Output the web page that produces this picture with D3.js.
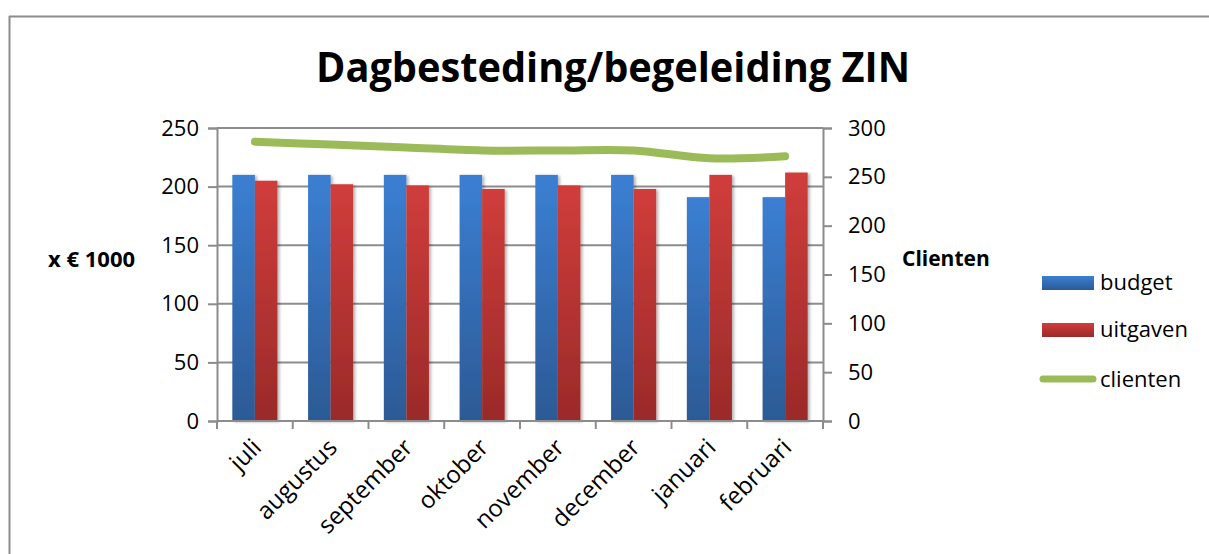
<!DOCTYPE html>
<html>
<head>
<meta charset="utf-8">
<script src="https://cdn.jsdelivr.net/npm/d3@7"></script>
<style>
  body { margin: 0; background: #fff; }
  svg { display: block; font-family: "Open Sans", sans-serif; }
</style>
</head>
<body>
<svg width="1209" height="554"></svg>
<script>
// Chart data
const months = ["juli", "augustus", "september", "oktober", "november", "december", "januari", "februari"];
const budget = [210, 210, 210, 210, 210, 210, 191, 191];
const uitgaven = [205, 202, 201, 198, 201, 198, 210, 212];
const clienten = [286, 283, 280, 277, 277, 277, 269, 271];
const leftTicks = [0, 50, 100, 150, 200, 250];
const rightTicks = [0, 50, 100, 150, 200, 250, 300];
const seriesNames = ["budget", "uitgaven"];

const svg = d3.select("svg");

// gradients + shadow
const defs = svg.append("defs");
function grad(id, top, bottom) {
    const g = defs.append("linearGradient").attr("id", id)
        .attr("x1", 0).attr("y1", 0).attr("x2", 0).attr("y2", 1);
    g.append("stop").attr("offset", "0%").attr("stop-color", top);
    g.append("stop").attr("offset", "100%").attr("stop-color", bottom);
}
grad("g-budget", "#3b7fd3", "#2c5a95");
grad("g-uitgaven", "#d03d3b", "#9a2a29");
defs.append("filter").attr("id", "shadow")
    .attr("x", "-20%").attr("y", "-5%").attr("width", "150%").attr("height", "115%")
    .append("feDropShadow")
    .attr("dx", 2).attr("dy", 1).attr("stdDeviation", 1.5)
    .attr("flood-color", "#000").attr("flood-opacity", 0.3);

// frame
svg.append("line").attr("x1", 9.5).attr("x2", 9.5).attr("y1", 16).attr("y2", 554)
    .attr("stroke", "#8c8c8c").attr("stroke-width", 2);
svg.append("line").attr("x1", 9).attr("x2", 1209).attr("y1", 16.5).attr("y2", 16.5)
    .attr("stroke", "#8c8c8c").attr("stroke-width", 2);

// scales
const x = d3.scaleBand().domain(months).range([217, 823]).padding(0);
const xs = d3.scaleBand().domain(seriesNames).range([0, x.bandwidth()])
    .paddingInner(0).paddingOuter(0.68);
const yL = d3.scaleLinear().domain([0, 250]).range([421, 128]);
const yR = d3.scaleLinear().domain([0, 300]).range([421, 128]);

// title
svg.append("text")
    .attr("x", 316).attr("y", 82)
    .attr("font-size", 42).attr("font-weight", "bold")
    .attr("textLength", 594).attr("lengthAdjust", "spacingAndGlyphs")
    .text("Dagbesteding/begeleiding ZIN");

// gridlines
svg.append("g").selectAll("line").data(leftTicks).join("line")
    .attr("x1", 217).attr("x2", 823)
    .attr("y1", d => yL(d)).attr("y2", d => yL(d))
    .attr("stroke", "#8c8c8c").attr("stroke-width", 2);

// left axis
const gl = svg.append("g").attr("transform", "translate(217,0)")
    .call(d3.axisLeft(yL).tickValues(leftTicks).tickSize(9).tickPadding(9));
// right axis
const gr = svg.append("g").attr("transform", "translate(823,0)")
    .call(d3.axisRight(yR).tickValues(rightTicks).tickSize(9).tickPadding(16));
[gl, gr].forEach(g => {
    g.select(".domain").attr("stroke", "#8c8c8c").attr("stroke-width", 2);
    g.selectAll(".tick line").attr("stroke", "#8c8c8c").attr("stroke-width", 2);
    g.selectAll(".tick text").attr("font-size", 22).attr("fill", "#000")
        .attr("font-family", "Open Sans");
});

// bars
const barData = months.flatMap((m, i) => [
    { m, s: "budget", v: budget[i] },
    { m, s: "uitgaven", v: uitgaven[i] }
]);
svg.append("g").selectAll("rect").data(barData).join("rect")
    .attr("x", d => x(d.m) + xs(d.s))
    .attr("width", xs.bandwidth())
    .attr("y", d => yL(d.v))
    .attr("height", d => yL(0) - yL(d.v))
    .attr("fill", d => `url(#g-${d.s})`)
    .attr("filter", "url(#shadow)");

// bottom axis
const gb = svg.append("g").attr("transform", "translate(0,421)");
gb.append("line").attr("x1", 217).attr("x2", 823).attr("y1", 0).attr("y2", 0)
    .attr("stroke", "#8c8c8c").attr("stroke-width", 2);
gb.selectAll(".cat-tick").data(months.concat(["end"])).join("line")
    .attr("class", "cat-tick")
    .attr("x1", (d, i) => 217 + i * x.step()).attr("x2", (d, i) => 217 + i * x.step())
    .attr("y1", 0).attr("y2", 8)
    .attr("stroke", "#8c8c8c").attr("stroke-width", 2);
gb.selectAll(".cat-label").data(months).join("text")
    .attr("class", "cat-label")
    .attr("transform", d => `translate(${x(d) + x.bandwidth() / 2 - 4},${16}) rotate(-45)`)
    .attr("text-anchor", "end")
    .attr("dy", "0.7em")
    .attr("font-size", 24)
    .text(d => d);

// clienten line
const line = d3.line()
    .x((d, i) => x(months[i]) + x.bandwidth() / 2)
    .y(d => yR(d))
    .curve(d3.curveCatmullRom);
svg.append("path").datum(clienten)
    .attr("d", line)
    .attr("fill", "none")
    .attr("stroke", "#9bbb59")
    .attr("stroke-width", 8)
    .attr("stroke-linecap", "round");

// axis titles
svg.append("text").attr("x", 48).attr("y", 267)
    .attr("font-size", 22).attr("font-weight", "bold").text("x € 1000");
svg.append("text").attr("x", 902).attr("y", 266)
    .attr("font-size", 21).attr("font-weight", "bold").text("Clienten");

// legend
const legend = svg.append("g");
const legendY = [283, 330, 379];
seriesNames.forEach((s, i) => {
    legend.append("rect").attr("x", 1042).attr("y", legendY[i] - 7)
        .attr("width", 52).attr("height", 14).attr("fill", `url(#g-${s})`);
    legend.append("text").attr("x", 1100).attr("y", legendY[i] + 7)
        .attr("font-size", 22).text(s);
});
legend.append("line").attr("x1", 1043).attr("x2", 1093)
    .attr("y1", legendY[2]).attr("y2", legendY[2])
    .attr("stroke", "#9bbb59").attr("stroke-width", 7).attr("stroke-linecap", "round");
legend.append("text").attr("x", 1100).attr("y", legendY[2] + 8)
    .attr("font-size", 22).text("clienten");
</script>
</body>
</html>
